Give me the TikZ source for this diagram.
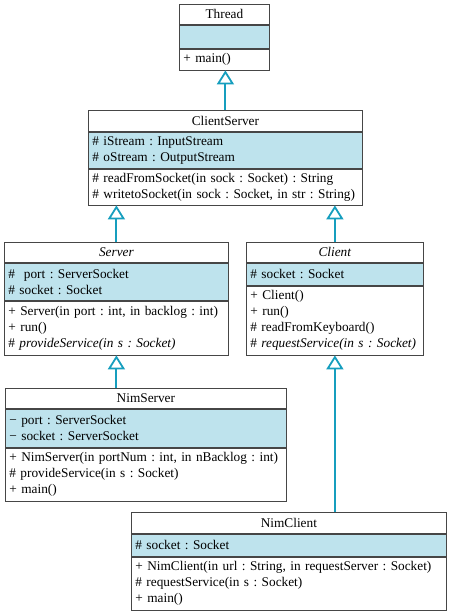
\documentclass[tikz,border=0pt]{standalone}
\usepackage{fontspec}
\setmainfont{Liberation Serif}
\usetikzlibrary{positioning,arrows.meta}
\definecolor{fieldblue}{RGB}{190,227,237}
\definecolor{boxline}{RGB}{70,70,70}
\definecolor{linkteal}{RGB}{22,158,190}
\frenchspacing

\begin{document}
\begin{tikzpicture}[x=1pt, y=-1pt,
		part/.style={draw=boxline, line width=0.8pt, inner xsep=4pt, inner ysep=0pt,
		             font=\fontsize{13.3}{16}\selectfont, align=left},
		cname/.style={part, align=center},
		attrs/.style={part, fill=fieldblue},
		generalize/.style={draw=linkteal, line width=2pt,
		             -{Triangle[open, length=14pt, width=17pt, line width=1.8pt]}}]
		\useasboundingbox (0,0) rectangle (450,613);
		% Thread
		\node[cname, text width=82pt, minimum height=20pt, anchor=north west] (thread) at (179,4) {Thread};
		\node[attrs, text width=82pt, minimum height=23pt, below=0pt of thread] (threadAttr) {};
		\node[part, text width=82pt, minimum height=21pt, below=0pt of threadAttr] (threadOps) {+ main()};
		% ClientServer
		\node[cname, text width=266pt, minimum height=21pt, anchor=north west] (cs) at (88,110) {ClientServer};
		\node[attrs, text width=266pt, minimum height=36pt, below=0pt of cs] (csAttr)
			{\# iStream : InputStream\\\# oStream : OutputStream};
		\node[part, text width=266pt, minimum height=36pt, below=0pt of csAttr] (csOps)
			{\# readFromSocket(in sock : Socket) : String\\\# writetoSocket(in sock : Socket, in str : String)};
		% Server
		\node[cname, text width=216pt, minimum height=20pt, anchor=north west] (server) at (4,242) {\textit{Server}};
		\node[attrs, text width=216pt, minimum height=37pt, below=0pt of server] (serverAttr)
			{\#\ \ port : ServerSocket\\\# socket : Socket};
		\node[part, text width=216pt, minimum height=54pt, below=0pt of serverAttr] (serverOps)
			{+ Server(in port : int, in backlog : int)\\+ run()\\\# \textit{provideService(in s : Socket)}};
		% Client
		\node[cname, text width=169pt, minimum height=20pt, anchor=north west] (client) at (246,242) {\textit{Client}};
		\node[attrs, text width=169pt, minimum height=22pt, below=0pt of client] (clientAttr)
			{\# socket : Socket};
		\node[part, text width=169pt, minimum height=69pt, below=0pt of clientAttr] (clientOps)
			{+ Client()\\+ run()\\\# readFromKeyboard()\\\# \textit{requestService(in s : Socket)}};
		% NimServer
		\node[cname, text width=273pt, minimum height=20pt, anchor=north west] (nimServer) at (5,388) {NimServer};
		\node[attrs, text width=273pt, minimum height=38pt, below=0pt of nimServer] (nimServerAttr)
			{− port : ServerSocket\\− socket : ServerSocket};
		\node[part, text width=273pt, minimum height=53pt, below=0pt of nimServerAttr] (nimServerOps)
			{+ NimServer(in portNum : int, in nBacklog : int)\\\# provideService(in s : Socket)\\+ main()};
		% NimClient
		\node[cname, text width=307pt, minimum height=21pt, anchor=north west] (nimClient) at (131,512) {NimClient};
		\node[attrs, text width=307pt, minimum height=22pt, below=0pt of nimClient] (nimClientAttr)
			{\# socket : Socket};
		\node[part, text width=307pt, minimum height=53pt, below=0pt of nimClientAttr] (nimClientOps)
			{+ NimClient(in url : String, in requestServer : Socket)\\\# requestService(in s : Socket)\\+ main()};
		% generalizations
		\draw[generalize] (cs.north) -- (cs.north |- threadOps.south);
		\draw[generalize] (server.north) -- (server.north |- csOps.south);
		\draw[generalize] (client.north) -- (client.north |- csOps.south);
		\draw[generalize] (nimServer.north -| serverOps.south) -- (serverOps.south);
		\draw[generalize] (nimClient.north -| clientOps.south) -- (clientOps.south);
	\end{tikzpicture}
\end{document}
